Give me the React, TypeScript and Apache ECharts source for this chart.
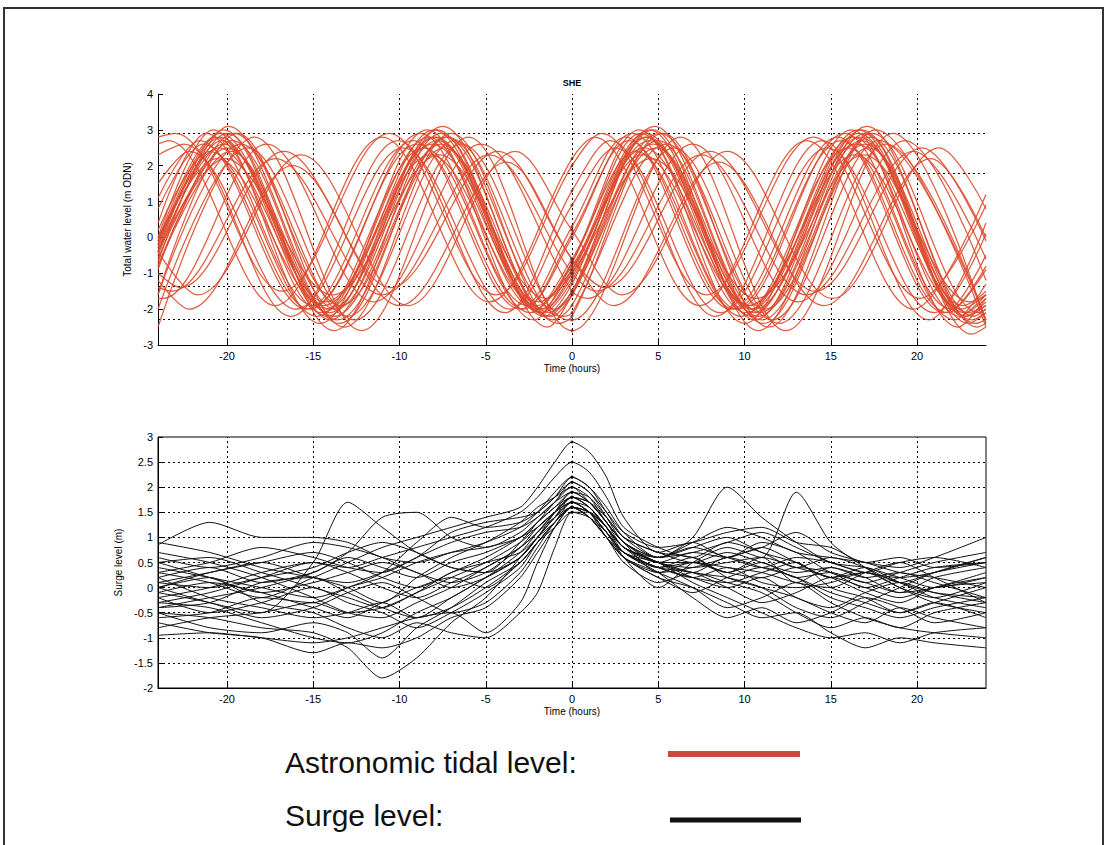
import React, { useEffect, useRef } from "react";
import * as echarts from "echarts";

// ---------- ticks & reference levels ----------
const xTicks = [-20, -15, -10, -5, 0, 5, 10, 15, 20];
const tideRefLevels = [2.9, 1.8, -1.37, -2.28];
const surgeGridLevels = [2.5, 2, 1.5, 1, 0.5, 0, -0.5, -1, -1.5];

// ---------- astronomic tide lines: [hour, level] at turning points ----------
const tide01 = [[-24,-0.4],[-20.2,3.0],[-14.0,-2.3],[-7.8,3.0],[-1.6,-2.2],[0,-1.3],[4.5,3.0],[10.6,-2.3],[16.8,3.0],[23.0,-2.4],[24,-2.1]];
const tide02 = [[-24,-0.1],[-20.7,2.8],[-14.5,-2.1],[-8.3,2.8],[-2.1,-2.0],[0,-0.7],[4.0,2.9],[10.1,-2.1],[16.3,2.8],[22.5,-2.2],[24,-1.6]];
const tide03 = [[-24,-0.8],[-19.7,2.7],[-13.5,-2.4],[-7.3,2.8],[-1.1,-2.3],[0,-1.9],[5.0,2.7],[11.1,-2.4],[17.3,2.8],[23.5,-2.5],[24,-2.4]];
const tide04 = [[-24,0.4],[-21.2,2.9],[-15.0,-1.9],[-8.8,2.9],[-2.6,-1.9],[0,0.0],[3.5,2.9],[9.6,-2.0],[15.8,2.9],[22.0,-2.0],[24,-0.8]];
const tide05 = [[-24,-1.6],[-19.2,2.6],[-13.0,-2.2],[-6.8,2.7],[-0.6,-2.2],[0,-2.1],[5.5,2.6],[11.6,-2.3],[17.8,2.7],[24,-2.3]];
const tide06 = [[-24,-0.7],[-19.9,3.1],[-13.7,-2.0],[-7.5,3.1],[-1.3,-2.1],[0,-1.5],[4.8,3.1],[10.9,-2.1],[17.1,3.1],[23.3,-2.2],[24,-2.0]];
const tide07 = [[-24,-0.1],[-20.5,2.5],[-14.3,-1.8],[-8.1,2.6],[-1.9,-1.8],[0,-0.9],[4.2,2.5],[10.3,-1.9],[16.5,2.6],[22.7,-1.9],[24,-1.5]];
const tide08 = [[-24,-1.6],[-19.4,2.9],[-13.2,-2.5],[-7.0,2.9],[-0.8,-2.4],[0,-2.2],[5.3,2.9],[11.4,-2.5],[17.6,3.0],[24,-2.5]];
const tide09 = [[-24,0.2],[-21.0,2.4],[-14.8,-2.2],[-8.6,2.5],[-2.4,-2.1],[0,-0.6],[3.7,2.4],[9.8,-2.2],[16.0,2.5],[22.2,-2.3],[24,-1.3]];
const tide10 = [[-24,-0.4],[-20.1,2.2],[-13.9,-1.6],[-7.7,2.3],[-1.5,-1.7],[0,-1.0],[4.6,2.2],[10.7,-1.7],[16.9,2.3],[23.1,-1.8],[24,-1.6]];
const tide11 = [[-24,1.1],[-21.6,2.7],[-15.4,-2.0],[-9.2,2.7],[-3.0,-2.0],[0,0.3],[3.1,2.8],[9.2,-2.0],[15.4,2.8],[21.6,-2.1],[24,-0.5]];
const tide12 = [[-24,-2.0],[-18.8,2.5],[-12.6,-2.3],[-6.4,2.6],[-0.2,-2.3],[0,-2.3],[5.9,2.5],[12.0,-2.4],[18.2,2.6],[24,-2.3]];
const tide13 = [[-24,-0.9],[-19.6,2.9],[-13.4,-1.9],[-7.2,2.8],[-1.0,-2.0],[0,-1.6],[5.1,2.9],[11.2,-2.0],[17.4,2.9],[23.6,-2.1],[24,-2.0]];
const tide14 = [[-24,0.0],[-20.8,3.0],[-14.6,-2.4],[-8.4,3.0],[-2.2,-2.3],[0,-0.7],[3.9,3.0],[10.0,-2.4],[16.2,3.0],[22.4,-2.5],[24,-1.7]];
const tide15 = [[-24,-0.4],[-20.2,2.6],[-14.0,-2.0],[-7.8,2.7],[-1.6,-2.0],[0,-1.1],[4.5,2.7],[10.6,-2.0],[16.8,2.7],[23.0,-2.1],[24,-1.9]];
const tide16 = [[-24,-0.3],[-20.4,2.8],[-14.2,-2.2],[-8.0,2.8],[-1.8,-2.1],[0,-1.0],[4.3,2.8],[10.4,-2.2],[16.6,2.9],[22.8,-2.2],[24,-1.8]];
const tide17 = [[-24,-0.8],[-19.8,2.4],[-13.6,-2.3],[-7.4,2.5],[-1.2,-2.2],[0,-1.6],[4.9,2.5],[11.0,-2.3],[17.2,2.5],[23.4,-2.4],[24,-2.3]];
const tide18 = [[-24,0.8],[-21.4,2.6],[-15.2,-2.0],[-9.0,2.6],[-2.8,-2.0],[0,0.1],[3.3,2.7],[9.4,-2.0],[15.6,2.7],[21.8,-2.1],[24,-0.9]];
const tide19 = [[-24,2.6],[-23.4,2.7],[-17.2,-1.9],[-11.0,2.8],[-4.8,-1.8],[0,2.2],[1.3,2.8],[7.4,-1.9],[13.6,2.7],[19.8,-2.0],[24,1.2]];
const tide20 = [[-24,-1.4],[-23.2,-1.5],[-17.2,2.2],[-11.0,-1.6],[-4.8,2.3],[0,-1.0],[1.4,-1.5],[7.5,2.3],[13.6,-1.6],[19.8,2.4],[24,-0.6]];
const tide21 = [[-24,2.3],[-22.5,2.6],[-16.3,-2.2],[-10.1,2.7],[-3.9,-2.1],[0,1.3],[2.2,2.7],[8.3,-2.2],[14.5,2.7],[20.7,-2.3],[24,0.4]];
const tide22 = [[-24,-1.2],[-22.2,-2.0],[-16.2,2.0],[-10.0,-1.9],[-3.8,2.1],[0,-0.6],[2.4,-1.9],[8.5,2.1],[14.6,-1.9],[20.8,2.2],[24,0.0]];
const tide23 = [[-24,-1.0],[-22.7,-1.4],[-16.7,2.4],[-10.5,-1.4],[-4.3,2.4],[0,-0.6],[1.9,-1.4],[8.0,2.4],[14.1,-1.5],[20.3,2.5],[24,-0.1]];
const tide24 = [[-24,2.8],[-23.0,2.9],[-16.8,-1.5],[-10.6,2.9],[-4.4,-1.6],[0,2.0],[1.7,2.9],[7.8,-1.6],[14.0,2.8],[20.2,-1.7],[24,0.9]];
const tide25 = [[-24,-1.7],[-23.7,-1.7],[-17.7,2.6],[-11.5,-1.8],[-5.3,2.6],[0,-1.5],[0.9,-1.7],[7.0,2.6],[13.1,-1.8],[19.3,2.7],[24,-1.2]];
const tide26 = [[-24,-0.4],[-21.7,-1.6],[-15.7,2.3],[-9.5,-1.9],[-3.3,2.4],[0,0.2],[2.9,-1.6],[9.0,2.4],[15.1,-1.7],[21.3,2.5],[24,0.8]];
const tide27 = [[-24,1.5],[-22.2,2.4],[-16.0,-2.0],[-9.8,2.5],[-3.6,-2.0],[0,0.9],[2.5,2.5],[8.6,-2.1],[14.8,2.5],[21.0,-2.1],[24,0.1]];
const tide28 = [[-24,-2.5],[-18.4,2.8],[-12.2,-2.6],[-6.0,2.8],[0,-2.6],[6.3,2.8],[12.4,-2.6],[18.6,2.9],[24,-2.4]];
const tide29 = [[-24,-0.5],[-20.0,2.9],[-13.8,-2.6],[-7.6,2.9],[-1.4,-2.5],[0,-1.6],[4.7,3.0],[10.8,-2.6],[17.0,2.9],[23.2,-2.7],[24,-2.5]];
const tide30 = [[-24,0.0],[-20.6,2.2],[-14.4,-1.9],[-8.2,2.3],[-2.0,-1.9],[0,-0.8],[4.1,2.3],[10.2,-1.9],[16.4,2.3],[22.6,-2.0],[24,-1.6]];
const tide31 = [[-24,-0.2],[-20.3,2.7],[-14.1,-2.1],[-7.9,2.8],[-1.7,-2.1],[0,-1.2],[4.4,2.8],[10.5,-2.1],[16.7,2.8],[22.9,-2.2],[24,-1.9]];
const tide32 = [[-24,-0.6],[-20.0,2.5],[-13.8,-2.2],[-7.6,2.6],[-1.4,-2.2],[0,-1.5],[4.7,2.6],[10.8,-2.2],[17.0,2.6],[23.2,-2.3],[24,-2.1]];
const tide33 = [[-24,-0.2],[-20.4,2.9],[-14.2,-2.0],[-8.0,3.0],[-1.8,-2.0],[0,-0.9],[4.3,2.9],[10.4,-2.0],[16.6,3.0],[22.8,-2.1],[24,-1.7]];

const tideLines = [tide01, tide02, tide03, tide04, tide05, tide06, tide07, tide08, tide09, tide10,
  tide11, tide12, tide13, tide14, tide15, tide16, tide17, tide18, tide19, tide20,
  tide21, tide22, tide23, tide24, tide25, tide26, tide27, tide28, tide29, tide30,
  tide31, tide32, tide33];

// ---------- surge lines: values at surgeHours ----------
const surgeHours = [-24,-21,-18,-15,-13,-11,-9,-7,-5,-3,-2,-1,0,1,2,3,5,7,9,11,13,15,17,19,21,24];
const surge01 = [0.85,1.3,1.0,1.0,0.9,0.6,0.5,0.7,0.9,1.2,1.5,1.9,2.2,2.0,1.6,1.1,0.6,0.7,0.9,1.1,0.8,0.5,0.3,0.2,0.3,0.6];
const surge02 = [0.3,0.1,-0.2,0.2,0.5,0.8,1.0,1.2,1.4,1.6,2.0,2.5,2.9,2.7,2.2,1.4,0.7,0.9,0.6,0.8,0.5,0.2,0.3,0.0,-0.2,0.1];
const surge03 = [-0.2,0.0,0.3,0.5,0.4,0.6,0.8,1.0,1.2,1.5,1.8,2.2,2.5,2.3,1.8,1.2,0.8,0.6,0.9,0.7,0.4,0.6,0.4,0.1,0.3,0.5];
const surge04 = [0.0,-0.3,-0.5,0.5,1.7,1.2,0.7,0.4,0.3,0.9,1.3,1.7,2.0,1.8,1.3,0.9,0.3,0.5,0.3,0.6,0.1,0.4,0.2,-0.1,0.0,0.3];
const surge05 = [-0.5,-0.6,-0.8,-0.9,-1.2,-1.8,-1.4,-0.7,-0.2,0.6,1.0,1.4,1.7,1.5,1.1,0.7,0.4,0.2,0.1,0.3,0.5,0.0,-0.2,-0.5,-0.3,-0.6];
const surge06 = [0.1,0.3,0.5,0.2,0.0,-0.3,0.2,0.6,0.9,1.3,1.6,1.8,2.0,1.7,1.3,0.8,0.6,1.0,2.0,1.4,0.9,0.5,0.4,0.2,0.0,0.2];
const surge07 = [-0.3,-0.1,0.2,0.5,0.3,0.0,-0.2,0.1,0.4,0.8,1.1,1.5,1.8,1.6,1.2,0.6,0.0,0.5,0.8,0.6,1.9,0.9,0.4,0.0,-0.3,-0.5];
const surge08 = [-0.95,-0.9,-1.0,-1.1,-1.0,-0.8,-0.6,-0.5,-0.9,-0.3,0.5,1.2,1.6,1.4,1.0,0.6,0.2,0.0,-0.3,-0.6,-0.5,-0.9,-1.2,-1.0,-1.1,-1.2];
const surge09 = [0.5,0.6,0.3,0.0,-0.2,-0.4,-0.1,0.2,0.5,0.9,1.2,1.5,1.7,1.5,1.1,0.7,0.4,0.5,0.3,0.2,0.4,0.3,0.0,0.2,0.4,0.5];
const surge10 = [0.2,-0.2,-0.4,-0.6,-0.5,-0.3,-0.6,-0.2,0.2,0.7,1.1,1.5,1.8,1.6,1.2,0.8,0.5,0.3,0.6,0.4,0.2,-0.2,-0.4,-0.6,-0.4,-0.2];
const surge11 = [-0.4,-0.2,0.0,0.3,0.7,1.4,1.5,1.0,0.8,1.1,1.4,1.7,1.9,1.7,1.3,0.9,0.5,0.7,0.6,0.9,0.7,0.3,0.1,-0.1,0.2,0.4];
const surge12 = [0.0,0.2,-0.3,-0.5,-0.8,-1.0,-0.7,-0.9,-1.0,-0.5,-0.1,0.8,1.5,1.5,1.2,0.8,0.4,0.6,0.2,0.0,-0.2,-0.5,-0.7,-0.4,-0.6,-0.8];
const surge13 = [0.6,0.4,0.6,0.9,0.8,0.6,0.3,0.1,0.3,0.8,1.2,1.5,1.7,1.5,1.0,0.6,0.3,0.4,0.6,0.8,1.1,0.7,0.5,0.3,0.2,0.0];
const surge14 = [-0.6,-0.5,-0.2,-0.3,0.0,0.2,0.5,0.7,0.8,1.0,1.3,1.6,1.8,1.6,1.2,0.8,0.5,0.5,0.4,0.3,0.1,0.0,0.3,0.5,0.2,-0.3];
const surge15 = [0.3,0.5,0.8,0.6,0.4,0.3,0.6,0.9,1.1,1.2,1.4,1.7,2.1,1.9,1.5,1.1,0.8,0.9,1.1,1.2,0.9,0.8,0.5,0.6,0.4,0.5];
const surge16 = [-0.1,-0.3,-0.6,-0.4,-0.1,0.1,-0.2,-0.5,-0.3,0.3,0.8,1.3,1.6,1.4,1.0,0.6,0.3,0.0,-0.4,-0.2,0.1,-0.3,-0.6,-0.8,-0.9,-1.0];
const surge17 = [0.7,0.5,0.2,-0.2,-0.5,-0.6,-0.3,0.0,0.4,0.8,1.1,1.4,1.6,1.5,1.1,0.7,0.5,0.3,0.2,0.0,-0.4,-0.6,-0.3,0.0,0.3,0.6];
const surge18 = [-0.3,-0.4,-0.7,-1.0,-1.1,-0.9,-0.5,-0.2,0.2,0.6,1.0,1.4,1.7,1.5,1.1,0.6,0.2,-0.1,0.2,0.4,0.2,-0.1,-0.3,-0.5,-0.3,0.0];
const surge19 = [0.1,0.0,0.2,0.4,0.7,0.9,0.7,0.4,0.3,0.6,1.0,1.5,1.9,1.8,1.4,1.0,0.7,0.5,0.7,0.5,0.3,0.4,0.2,0.3,0.1,-0.2];
const surge20 = [-0.8,-0.6,-0.5,-0.3,-0.5,-0.4,-0.1,0.3,0.5,0.7,1.0,1.3,1.6,1.5,1.2,0.7,0.3,-0.2,-0.6,-0.4,-0.7,-0.5,-0.2,-0.4,-0.7,-0.5];
const surge21 = [0.4,0.2,0.0,-0.2,0.0,0.3,0.9,1.4,1.2,1.3,1.5,1.8,2.2,2.0,1.5,1.0,0.6,0.8,1.0,0.7,0.5,0.2,0.4,0.1,-0.1,-0.2];
const surge22 = [-0.2,-0.5,-0.3,0.0,-0.3,-0.5,-0.8,-0.5,-0.1,0.4,0.9,1.3,1.6,1.4,1.0,0.7,0.4,0.3,0.0,-0.3,-0.1,0.2,0.0,-0.2,0.0,0.1];
const surge23 = [0.0,0.3,0.5,0.7,0.5,0.2,0.0,0.3,0.6,1.0,1.3,1.6,1.9,1.7,1.3,0.9,0.6,0.8,0.6,0.4,0.6,0.5,0.3,0.5,0.6,0.4];
const surge24 = [-0.5,-0.8,-0.9,-0.7,-0.9,-1.4,-0.8,-0.4,0.1,0.5,0.9,1.3,1.6,1.4,1.0,0.5,0.1,0.3,0.1,-0.1,-0.5,-0.8,-0.6,-0.8,-0.5,-0.3];
const surge25 = [0.2,0.4,0.1,0.3,0.6,0.4,0.2,0.5,0.7,1.0,1.2,1.5,1.8,1.7,1.3,0.9,0.5,0.4,0.5,0.6,0.4,0.2,-0.1,-0.3,0.0,0.2];
const surge26 = [-0.1,0.1,-0.1,-0.4,-0.6,-0.3,0.0,0.2,0.0,0.5,0.9,1.2,1.5,1.4,1.1,0.7,0.4,0.2,0.4,0.1,0.0,0.1,0.3,0.1,-0.2,-0.4];
const surge27 = [0.5,0.2,-0.1,0.1,0.3,0.5,0.3,0.0,0.2,0.6,1.0,1.4,1.8,1.7,1.4,1.0,0.7,0.6,0.3,0.5,0.2,0.3,0.1,0.3,0.5,0.7];
const surge28 = [-0.4,-0.3,0.1,0.2,-0.1,-0.4,-0.6,-0.4,0.0,0.5,0.9,1.3,1.7,1.6,1.2,0.8,0.5,0.2,0.0,0.2,-0.2,-0.4,-0.1,0.1,-0.1,-0.3];
const surge29 = [0.9,0.7,0.4,0.2,0.1,0.3,0.6,1.1,1.3,1.4,1.5,1.8,2.1,1.9,1.4,0.9,0.6,0.9,1.2,1.0,0.7,0.6,0.5,0.4,0.6,1.0];
const surge30 = [-0.7,-0.9,-1.0,-1.3,-1.1,-1.2,-1.0,-0.6,-0.4,0.2,0.7,1.2,1.6,1.5,1.2,0.8,0.5,0.1,-0.2,-0.5,-0.8,-1.0,-0.9,-1.1,-0.9,-0.8];

const surgeLines = [surge01, surge02, surge03, surge04, surge05, surge06, surge07, surge08, surge09, surge10,
  surge11, surge12, surge13, surge14, surge15, surge16, surge17, surge18, surge19, surge20,
  surge21, surge22, surge23, surge24, surge25, surge26, surge27, surge28, surge29, surge30];

const FONT = "'Liberation Sans', Arial, Helvetica, sans-serif";

export default function App() {
  const ref = useRef<HTMLDivElement>(null);

  useEffect(() => {
    if (!ref.current) return;
    const chart = echarts.init(ref.current, null, { renderer: "svg" });

    const dotted = { color: "#000", width: 1, type: [2, 3] as any };
    const vGrid = xTicks.map((v) => ({ xAxis: v }));

    const tideSeries: any[] = tideLines.map((line, i) => ({
      type: "line",
      xAxisIndex: 0,
      yAxisIndex: 0,
      data: line,
      smooth: 0.35,
      showSymbol: false,
      silent: true,
      lineStyle: { color: "#dc4a2c", width: 1.25, opacity: 0.9 },
      z: 3,
      ...(i === 0
        ? {
            markLine: {
              silent: true,
              symbol: "none",
              label: { show: false },
              lineStyle: dotted,
              data: [...vGrid, ...tideRefLevels.map((v) => ({ yAxis: v }))],
              z: 2,
            },
          }
        : {}),
    }));

    const tideAtZero = tideLines
      .map((l) => l.find((p) => p[0] === 0))
      .filter((p) => !!p);

    const surgeSeries: any[] = surgeLines.map((vals, i) => ({
      type: "line",
      xAxisIndex: 1,
      yAxisIndex: 1,
      data: vals.map((v, k) => [surgeHours[k], v]),
      smooth: 0.25,
      showSymbol: false,
      silent: true,
      lineStyle: { color: "#111", width: 1 },
      z: 3,
      ...(i === 0
        ? {
            markLine: {
              silent: true,
              symbol: "none",
              label: { show: false },
              lineStyle: dotted,
              data: [...vGrid, ...surgeGridLevels.map((v) => ({ yAxis: v }))],
              z: 2,
            },
          }
        : {}),
    }));

    const zeroIdx = surgeHours.indexOf(0);
    const surgeAtZero = surgeLines.map((vals) => [0, vals[zeroIdx]]);

    const axisText = { fontFamily: FONT, fontSize: 11, color: "#000" };
    const nameText = { fontFamily: FONT, fontSize: 10, color: "#000" };

    const xAxisBase = (gridIndex: number) => ({
      type: "value",
      gridIndex,
      min: -24,
      max: 24,
      name: "Time (hours)",
      nameLocation: "middle",
      nameGap: 18,
      nameTextStyle: nameText,
      axisLine: { show: true, onZero: false, lineStyle: { color: "#000", width: 1 } },
      axisTick: { show: true, inside: true, length: 5, customValues: xTicks, lineStyle: { color: "#000" } },
      axisLabel: { ...axisText, margin: 5, customValues: xTicks },
      splitLine: { show: false },
    });

    chart.setOption({
      animation: false,
      backgroundColor: "#fff",
      grid: [
        { left: 158, top: 94, width: 828, height: 251, show: false },
        { left: 158, top: 437, width: 828, height: 251, show: true, borderColor: "#000", borderWidth: 1, backgroundColor: "transparent" },
      ],
      xAxis: [xAxisBase(0), xAxisBase(1)],
      yAxis: [
        {
          type: "value",
          gridIndex: 0,
          min: -3,
          max: 4,
          interval: 1,
          name: "Total water level (m ODN)",
          nameLocation: "middle",
          nameGap: 19,
          nameTextStyle: nameText,
          axisLine: { show: true, onZero: false, lineStyle: { color: "#000", width: 1 } },
          axisTick: { show: true, inside: true, length: 5, lineStyle: { color: "#000" } },
          axisLabel: { ...axisText, margin: 5 },
          splitLine: { show: false },
        },
        {
          type: "value",
          gridIndex: 1,
          min: -2,
          max: 3,
          interval: 0.5,
          name: "Surge level (m)",
          nameLocation: "middle",
          nameGap: 28,
          nameTextStyle: nameText,
          axisLine: { show: true, onZero: false, lineStyle: { color: "#000", width: 1 } },
          axisTick: { show: true, inside: true, length: 5, lineStyle: { color: "#000" } },
          axisLabel: { ...axisText, margin: 5 },
          splitLine: { show: false },
        },
      ],
      title: {
        text: "SHE",
        left: 572,
        top: 78,
        padding: 0,
        textAlign: "center",
        textStyle: { fontFamily: FONT, fontSize: 9, fontWeight: "bold", color: "#000" },
      },
      series: [
        ...tideSeries,
        {
          type: "scatter",
          xAxisIndex: 0,
          yAxisIndex: 0,
          data: tideAtZero,
          symbol: "circle",
          symbolSize: 3,
          silent: true,
          itemStyle: { color: "#6a2a30" },
          z: 4,
        },
        ...surgeSeries,
        {
          type: "scatter",
          xAxisIndex: 1,
          yAxisIndex: 1,
          data: surgeAtZero,
          symbol: "circle",
          symbolSize: 3,
          silent: true,
          itemStyle: { color: "#000" },
          z: 4,
        },
      ],
      graphic: [
        {
          type: "rect",
          silent: true,
          shape: { x: 4, y: 8, width: 1099, height: 860 },
          style: { fill: "none", stroke: "#333", lineWidth: 2 },
        },
        {
          type: "text",
          silent: true,
          x: 285,
          y: 762,
          style: { text: "Astronomic tidal level:", fontFamily: FONT, fontSize: 30, fill: "#111", textVerticalAlign: "middle" },
        },
        {
          type: "line",
          silent: true,
          shape: { x1: 668, y1: 754, x2: 800, y2: 754 },
          style: { stroke: "#c9493a", lineWidth: 6 },
        },
        {
          type: "text",
          silent: true,
          x: 285,
          y: 815,
          style: { text: "Surge level:", fontFamily: FONT, fontSize: 30, fill: "#111", textVerticalAlign: "middle" },
        },
        {
          type: "line",
          silent: true,
          shape: { x1: 670, y1: 820, x2: 801, y2: 820 },
          style: { stroke: "#111", lineWidth: 5 },
        },
      ],
    });

    return () => chart.dispose();
  }, []);

  return (
    <div
      ref={ref}
      style={{ position: "fixed", left: 0, top: 0, width: 1108, height: 845, background: "#fff" }}
    />
  );
}
